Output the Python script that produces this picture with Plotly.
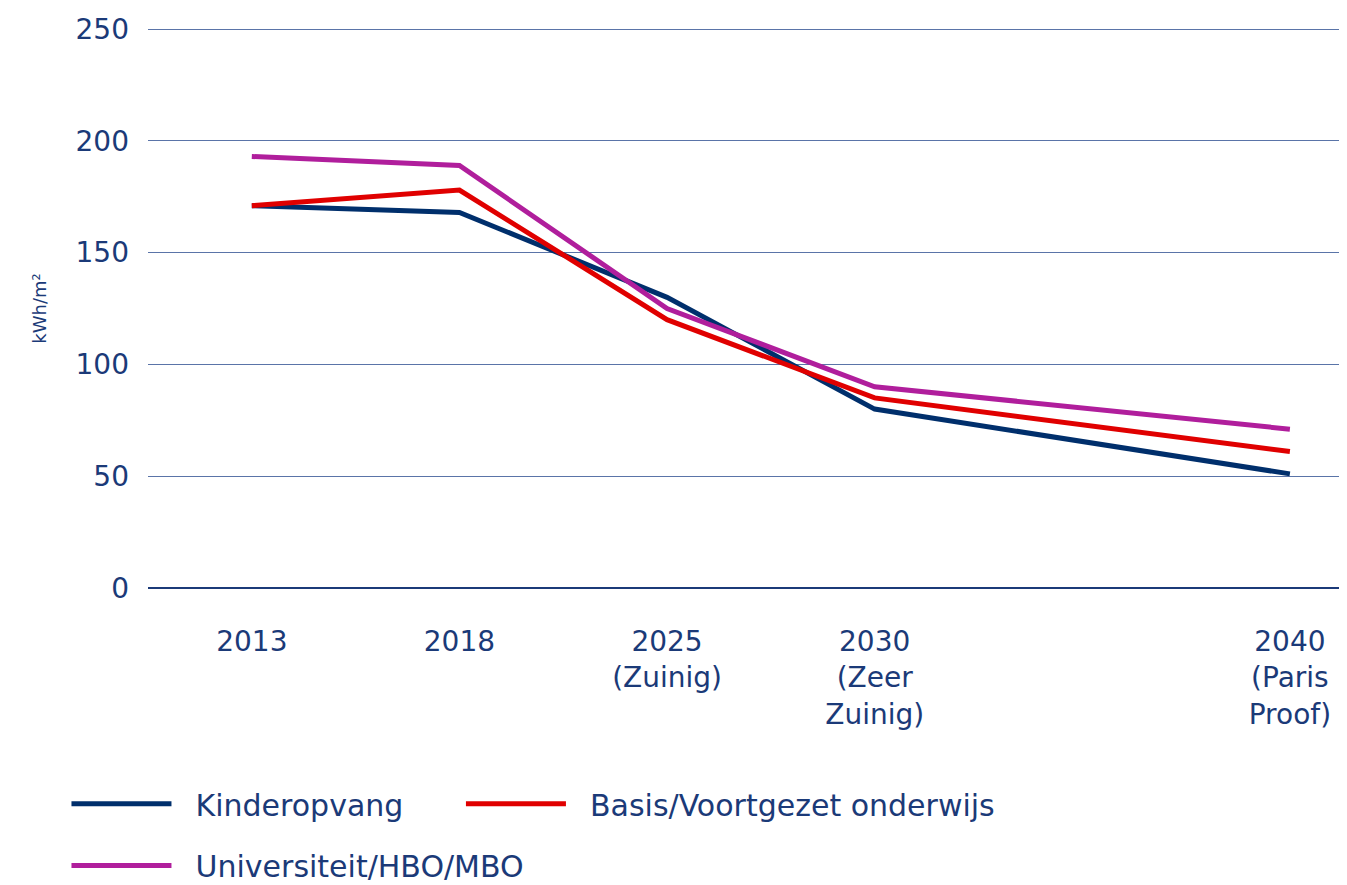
import plotly.graph_objects as go

# categories (blank slot for the gap between 2030 and 2040)
categories = ["2013", "2018", "2025<br>(Zuinig)", "2030<br>(Zeer<br>Zuinig)", " ", "2040<br>(Paris<br>Proof)"]

kinderopvang = [171, 168, 130, 80, None, 51]
basis_voortgezet = [171, 178, 120, 85, None, 61]
universiteit = [193, 189, 125, 90, None, 71]

y_ticks = [0, 50, 100, 150, 200, 250]

NAVY = "#1b3a78"
FONT = "DejaVu Sans"

series = [
    ("Kinderopvang", kinderopvang, "#002f6c", "legend"),
    ("Basis/Voortgezet onderwijs", basis_voortgezet, "#e00000", "legend2"),
    ("Universiteit/HBO/MBO", universiteit, "#b01e9c", "legend3"),
]

fig = go.Figure()
for name, values, color, leg in series:
    fig.add_trace(
        go.Scatter(x=categories, y=values, name="  " + name, mode="lines",
                   connectgaps=True, legend=leg,
                   line=dict(color=color, width=5))
    )

legend_style = dict(orientation="h", xanchor="left", yanchor="middle", itemwidth=100,
                    font=dict(size=30, color=NAVY), bgcolor="rgba(0,0,0,0)")

# page body has an 8px margin, so the figure is a little smaller than the window
fig.update_layout(
    width=1339, height=877,
    margin={'t': 20, 'b': 296, 'l': 140, 'r': 0, 'autoexpand': False},
    plot_bgcolor="white", paper_bgcolor="white",
    font=dict(family=FONT, size=28, color=NAVY),
    legend=dict(x=-0.068, y=-0.383, **legend_style),
    legend2=dict(x=0.261, y=-0.383, **legend_style),
    legend3=dict(x=-0.068, y=-0.493, **legend_style),
    showlegend=True,
)

fig.update_xaxes(
    type="category", categoryorder="array", categoryarray=categories,
    range=[-0.5, 5.275], showgrid=False, showline=False, zeroline=False,
    ticks="", ticklabelstandoff=33, automargin=False,
)
fig.update_yaxes(
    range=[-0.5, 250.5], tickvals=y_ticks, showgrid=True, gridcolor="#5a74a8", gridwidth=1,
    zeroline=True, zerolinecolor=NAVY, zerolinewidth=1.5, showline=False,
    ticks="", ticklabelstandoff=18, automargin=False,
    title=dict(text="kWh/m²", font=dict(size=18, color=NAVY), standoff=24),
)

fig.write_html("out.html")
